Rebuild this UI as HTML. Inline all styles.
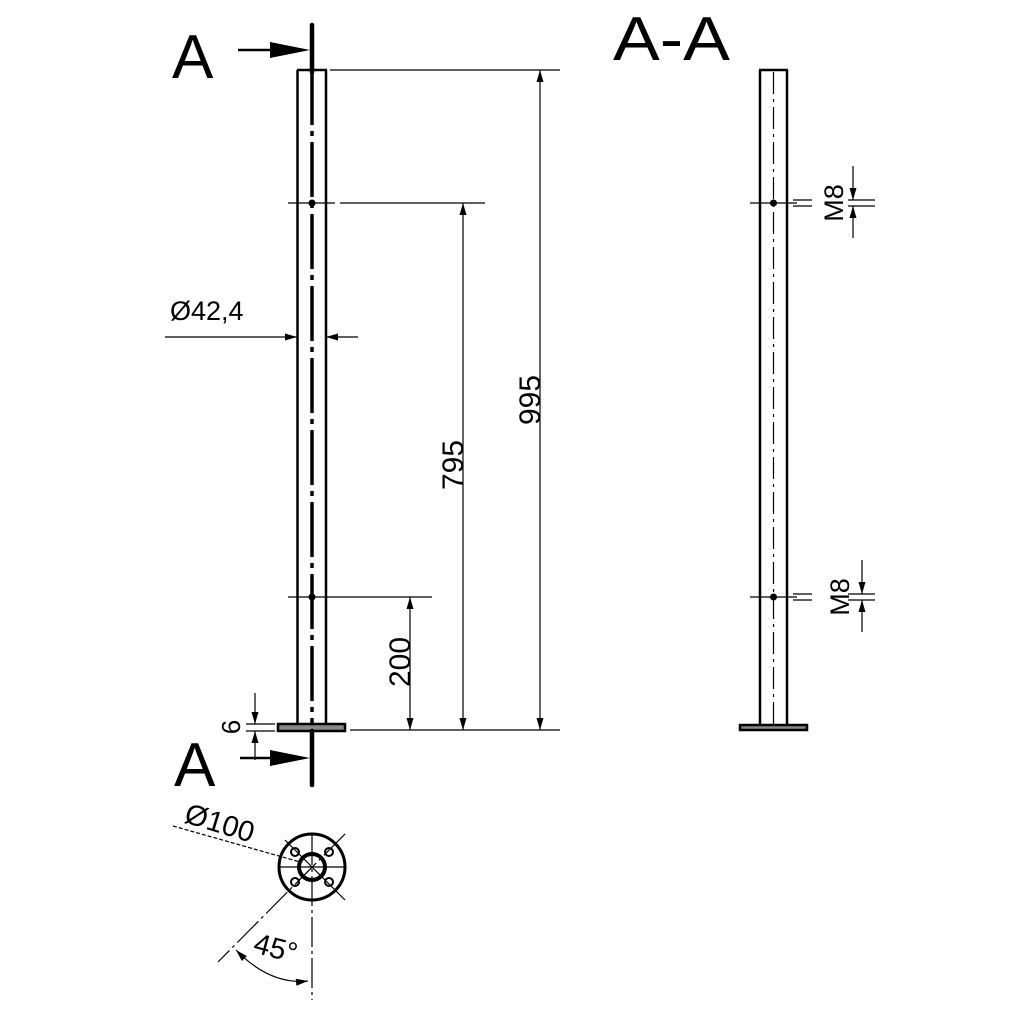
<!DOCTYPE html>
<html><head><style>html,body{margin:0;padding:0;background:#fff}svg{display:block}</style></head><body>
<svg width="1024" height="1024" viewBox="0 0 1024 1024" xmlns="http://www.w3.org/2000/svg" font-family="Liberation Sans, sans-serif">
<defs>
<marker id="ar" viewBox="0 0 12 10" refX="12" refY="5" markerWidth="14" markerHeight="10" markerUnits="userSpaceOnUse" orient="auto-start-reverse"><path d="M0,1.5 L12,5 L0,8.5 Z" fill="#000"/></marker>
</defs>
<g stroke="#000" fill="none">
<line x1="297.5" y1="70" x2="297.5" y2="725" stroke-width="2.5"/>
<line x1="326" y1="70" x2="326" y2="725" stroke-width="2.5"/>
<line x1="297" y1="70" x2="327" y2="70" stroke-width="2.5"/>
<line x1="312" y1="70" x2="312" y2="725" stroke-width="3.5" stroke-dasharray="55,6,5,6"/>
<rect x="278" y="724" width="67" height="7" fill="#888" stroke-width="2.5"/>
<line x1="312" y1="25" x2="312" y2="72" stroke-width="4.5" stroke-linecap="round"/>
<line x1="312" y1="731" x2="312" y2="785" stroke-width="4.5" stroke-linecap="round"/>
<line x1="238" y1="50" x2="272" y2="50" stroke-width="2.5"/>
<path d="M270,42 L310,50 L270,58 Z" fill="#000" stroke="none"/>
<line x1="240" y1="758" x2="272" y2="758" stroke-width="2.5"/>
<path d="M270,750 L310,758 L270,766 Z" fill="#000" stroke="none"/>
<line x1="288" y1="203" x2="335" y2="203" stroke-width="1.2"/>
<line x1="288" y1="597" x2="335" y2="597" stroke-width="1.2"/>
<circle cx="312" cy="203" r="3.5" fill="#000" stroke="none"/>
<circle cx="312" cy="597" r="3.5" fill="#000" stroke="none"/>
<g stroke-width="1.2">
<line x1="330" y1="70" x2="560" y2="70"/>
<line x1="350" y1="730" x2="560" y2="730"/>
<line x1="340" y1="203" x2="485" y2="203"/>
<line x1="335" y1="597" x2="432" y2="597"/>
<line x1="540" y1="70" x2="540" y2="730" marker-start="url(#ar)" marker-end="url(#ar)"/>
<line x1="463" y1="203" x2="463" y2="730" marker-start="url(#ar)" marker-end="url(#ar)"/>
<line x1="410" y1="597" x2="410" y2="730" marker-start="url(#ar)" marker-end="url(#ar)"/>
<line x1="165" y1="337" x2="297" y2="337" marker-end="url(#ar)"/>
<line x1="358" y1="337" x2="326" y2="337" marker-end="url(#ar)"/>
<line x1="255" y1="693" x2="255" y2="724" marker-end="url(#ar)"/>
<line x1="255" y1="760" x2="255" y2="731" marker-end="url(#ar)"/>
<line x1="246" y1="724" x2="275" y2="724"/>
<line x1="246" y1="731" x2="275" y2="731"/>
</g>
<line x1="760" y1="70" x2="760" y2="725" stroke-width="2.5"/>
<line x1="787" y1="70" x2="787" y2="725" stroke-width="2.5"/>
<line x1="759" y1="70" x2="788" y2="70" stroke-width="2.5"/>
<line x1="773.5" y1="72" x2="773.5" y2="725" stroke-width="1.2" stroke-dasharray="22,5,3,5"/>
<rect x="740" y="725" width="67" height="5" fill="#888" stroke-width="2.5"/>
<g stroke-width="1.2">
<line x1="750" y1="203" x2="797" y2="203"/>
<line x1="750" y1="597" x2="797" y2="597"/>
<line x1="793" y1="200" x2="812" y2="200"/><line x1="793" y1="206" x2="812" y2="206"/>
<line x1="793" y1="594" x2="812" y2="594"/><line x1="793" y1="600" x2="812" y2="600"/>
<line x1="848" y1="200" x2="875" y2="200"/><line x1="848" y1="206" x2="875" y2="206"/>
<line x1="848" y1="594" x2="875" y2="594"/><line x1="848" y1="600" x2="875" y2="600"/>
<line x1="853" y1="166" x2="853" y2="200" marker-end="url(#ar)"/>
<line x1="853" y1="238" x2="853" y2="206" marker-end="url(#ar)"/>
<line x1="862" y1="560" x2="862" y2="594" marker-end="url(#ar)"/>
<line x1="862" y1="632" x2="862" y2="600" marker-end="url(#ar)"/>
</g>
<circle cx="773.5" cy="203" r="3.5" fill="#000" stroke="none"/>
<circle cx="773.5" cy="597" r="3.5" fill="#000" stroke="none"/>
<circle cx="312" cy="867" r="33" stroke-width="3"/>
<circle cx="312" cy="867" r="13" stroke-width="4"/>
<g stroke-width="2">
<circle cx="295" cy="852" r="4"/><circle cx="329" cy="852" r="4"/>
<circle cx="295" cy="882" r="4"/><circle cx="329" cy="882" r="4"/>
</g>
<g stroke-width="1.2">
<line x1="278" y1="867" x2="346" y2="867"/>
<line x1="312" y1="835" x2="312" y2="1000" stroke-dasharray="30,4,3,4"/>
<line x1="285" y1="840" x2="345" y2="900"/>
<line x1="345" y1="834" x2="218" y2="962" stroke-dasharray="30,4,3,4"/>
<line x1="173" y1="826" x2="300" y2="862" stroke-dasharray="4,2"/>
<path d="M236,950 Q270,985 308,981" marker-start="url(#ar)" marker-end="url(#ar)"/>
</g>
</g>
<g fill="#000">
<text x="172" y="78" font-size="62">A</text>
<text x="174" y="786" font-size="62">A</text>
<text x="613" y="60" font-size="62" textLength="117" lengthAdjust="spacingAndGlyphs">A-A</text>
<text x="170" y="320" font-size="27">Ø42,4</text>
<text transform="translate(540,400) rotate(-90)" font-size="30" text-anchor="middle">995</text>
<text transform="translate(463,465) rotate(-90)" font-size="30" text-anchor="middle">795</text>
<text transform="translate(410,662) rotate(-90)" font-size="30" text-anchor="middle">200</text>
<text transform="translate(240,727) rotate(-90)" font-size="26" text-anchor="middle">6</text>
<text transform="translate(843,203) rotate(-90)" font-size="27" text-anchor="middle">M8</text>
<text transform="translate(849,597) rotate(-90)" font-size="27" text-anchor="middle">M8</text>
<text transform="translate(183,822) rotate(17)" font-size="29">Ø100</text>
<text transform="translate(252,952) rotate(15)" font-size="29">45°</text>
</g>
</svg>
</body></html>
